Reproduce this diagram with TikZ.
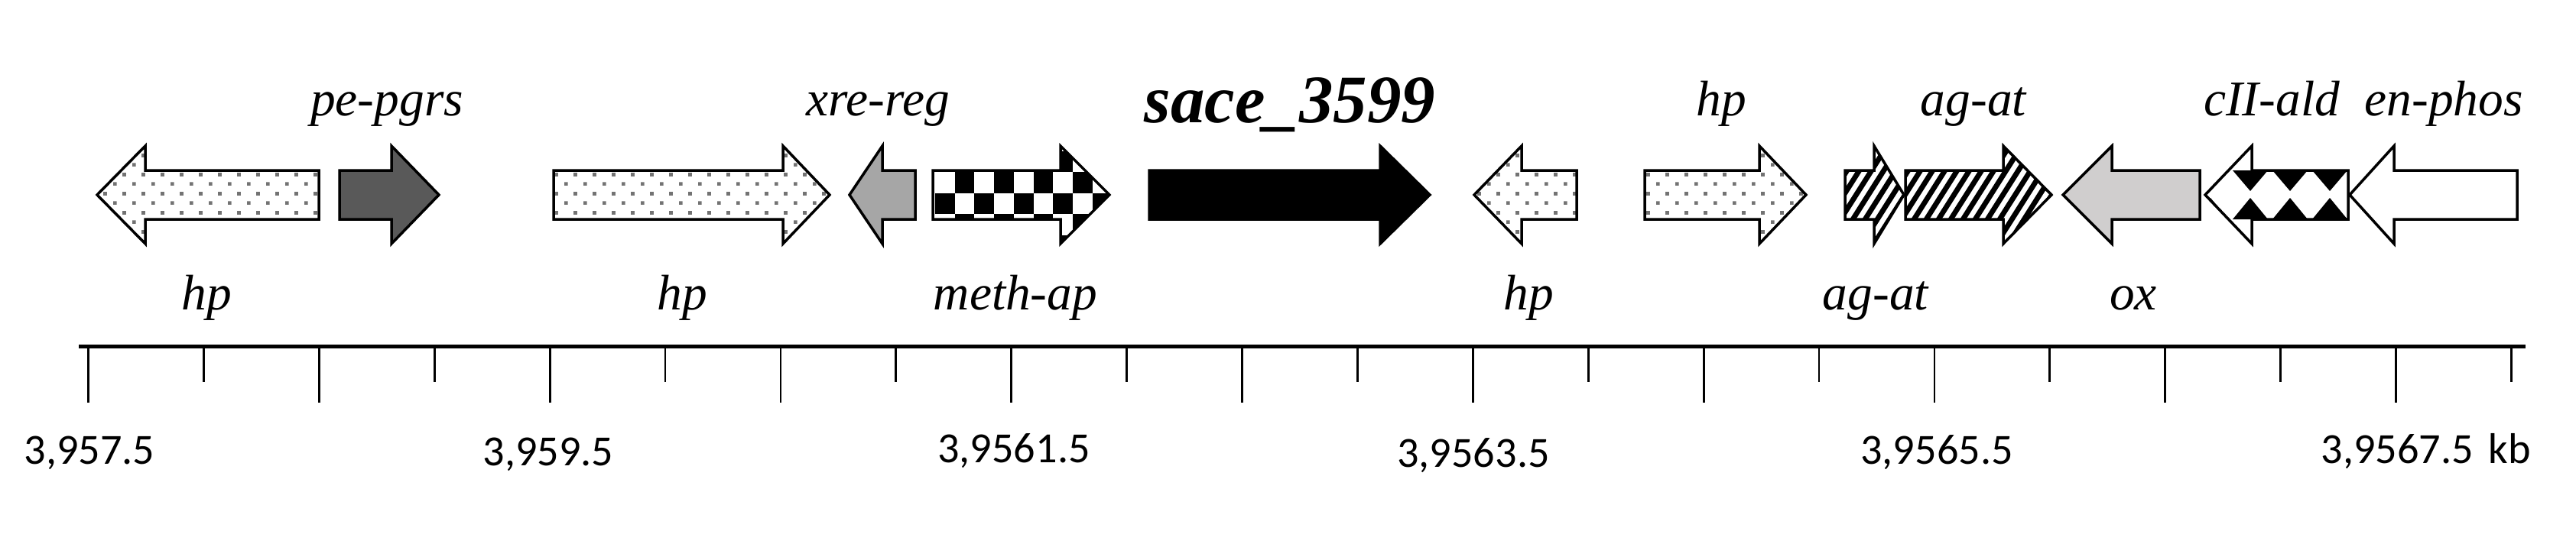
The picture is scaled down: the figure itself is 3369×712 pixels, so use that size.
\documentclass[tikz,border=0pt]{standalone}
\usepackage{fontspec}
\setmainfont{Liberation Serif}
\newfontfamily\axisfont{Carlito}
\usetikzlibrary{patterns}

\pgfdeclarepatterninherentlycolored{gdots}
  {\pgfpoint{0pt}{0pt}}{\pgfpoint{7pt}{7pt}}{\pgfpoint{7pt}{7pt}}
  {\pgfsetfillcolor{black!55}
   \pgfpathrectangle{\pgfpoint{0pt}{0pt}}{\pgfpoint{1.35pt}{1.35pt}}
   \pgfpathrectangle{\pgfpoint{3.5pt}{3.5pt}}{\pgfpoint{1.35pt}{1.35pt}}
   \pgfusepath{fill}}

\definecolor{darkgene}{HTML}{595959}
\definecolor{midgene}{HTML}{A6A6A6}
\definecolor{lightgene}{HTML}{D0CECE}

% arrow outline: tail x, head-base x, tip x
\newcommand\genepath[3]{(#1,223) -- (#2,223) -- (#2,191) -- (#3,255) -- (#2,319) -- (#2,287) -- (#1,287) -- cycle}

\tikzset{
  gene/.style={draw=black, line width=0.035cm, line join=miter},
  dotsfill/.style={preaction={fill=white}, pattern=gdots},
  stripe/.style={line width=0.068cm, black},
  lbl/.style={anchor=base, inner sep=0pt, font=\fontsize{18.6}{22}\selectfont\itshape},
  biglbl/.style={anchor=base, inner sep=0pt, font=\fontsize{25.3}{30}\selectfont\bfseries\itshape},
  ticklbl/.style={anchor=base, inner sep=0pt, font=\axisfont\fontsize{16}{19}\selectfont},
  axisline/.style={line width=0.05cm, black},
  tickline/.style={line width=0.028cm, black},
}

\begin{document}
\begin{tikzpicture}[x=0.01cm,y=-0.01cm]
\fill[white] (0,0) rectangle (3369,712);
\useasboundingbox (0,0) rectangle (3369,712);

% ---- genes ----
% hp (left)
\draw[gene, dotsfill] \genepath{417}{190}{127};
% pe-pgrs
\draw[gene, fill=darkgene] \genepath{444}{512}{574};
% hp (right)
\draw[gene, dotsfill] \genepath{724}{1024}{1085};
% xre-reg
\draw[gene, fill=midgene] \genepath{1197}{1154}{1111};
% meth-ap (checkerboard)
\begin{scope}
  \clip \genepath{1220}{1387}{1451};
  \fill[white] (1200,180) rectangle (1460,330);
  \foreach \i in {0,...,9}{
    \foreach \j in {-2,...,3}{
      \pgfmathtruncatemacro\cpar{mod(\i+\j+10,2)}
      \ifnum\cpar=1
        \fill[black] (1223+25.7*\i,225+27.5*\j) rectangle ++(25.7,27.5);
      \fi
    }
  }
\end{scope}
\draw[gene] \genepath{1220}{1387}{1451};
% sace_3599
\draw[gene, fill=black] \genepath{1503}{1805}{1870};
% hp (left, small)
\draw[gene, dotsfill] \genepath{2062}{1990}{1928};
% hp (right)
\draw[gene, dotsfill] \genepath{2151}{2301}{2362};
% ag-at small (stripes)
\begin{scope}
  \clip \genepath{2413}{2451}{2490};
  \fill[white] (2400,180) rectangle (2500,330);
  \foreach \x in {2300,2316,...,2500} \draw[stripe] (\x,330) -- (\x+95,180);
\end{scope}
\draw[gene] \genepath{2413}{2451}{2490};
% ag-at big (stripes)
\begin{scope}
  \clip \genepath{2492}{2620}{2683};
  \fill[white] (2480,180) rectangle (2700,330);
  \foreach \x in {2380,2396,...,2700} \draw[stripe] (\x,330) -- (\x+95,180);
\end{scope}
\draw[gene] \genepath{2492}{2620}{2683};
% ox
\draw[gene, fill=lightgene] \genepath{2877}{2762}{2698};
% cII-ald (diamond pattern)
\begin{scope}
  \clip \genepath{3071}{2945}{2884};
  \fill[white] (2870,180) rectangle (3080,330);
  \foreach \c in {2839,2891,...,3099}{
    \fill[black] (\c-23,223) -- (\c+23,223) -- (\c,250) -- cycle;
    \fill[black] (\c-23,287) -- (\c+23,287) -- (\c,259) -- cycle;
  }
\end{scope}
\draw[gene] \genepath{3071}{2945}{2884};
% en-phos
\draw[gene, fill=white] \genepath{3292}{3131}{3073};

% ---- gene labels ----
\node[lbl] (t-pepgrs) at (506,151) {pe-pgrs};
\node[lbl] (t-xrereg) at (1148,151) {xre-reg};
\node[biglbl] (t-sace) at (1687,160) {sace\_3599};
\node[lbl] (t-hp) at (2251,151) {hp};
\node[lbl] (t-agat) at (2581,151) {ag-at};
\node[lbl] (t-cIIald) at (2971,151) {cII-ald};
\node[lbl] (t-enphos) at (3196,151) {en-phos};

\node[lbl] (b-hp1) at (270,405) {hp};
\node[lbl] (b-hp2) at (892,405) {hp};
\node[lbl] (b-methap) at (1328,405) {meth-ap};
\node[lbl] (b-hp3) at (1999,405) {hp};
\node[lbl] (b-agat) at (2453,405) {ag-at};
\node[lbl] (b-ox) at (2790,405) {ox};

% ---- scale axis ----
\coordinate (axL) at (103,453);
\coordinate (axR) at (3303,453);
\draw[axisline] (axL) -- (axR);
\foreach \i in {0,...,21}{
  \pgfmathsetmacro\tx{115.5+150.9*\i}
  \ifodd\i
    \draw[tickline] (\tx,453) -- (\tx,500);
  \else
    \draw[tickline] (\tx,453) -- (\tx,527);
  \fi
}

\node[ticklbl] (x1) at (117,607) {3,957.5};
\node[ticklbl] (x2) at (717,609) {3,959.5};
\node[ticklbl] (x3) at (1326,605) {3,9561.5};
\node[ticklbl] (x4) at (1927,611) {3,9563.5};
\node[ticklbl] (x5) at (2533,607) {3,9565.5};
\node[ticklbl, anchor=base west] (x6) at (3035,606) {3,9567.5\hspace{0.35em}kb};
\end{tikzpicture}
\end{document}
